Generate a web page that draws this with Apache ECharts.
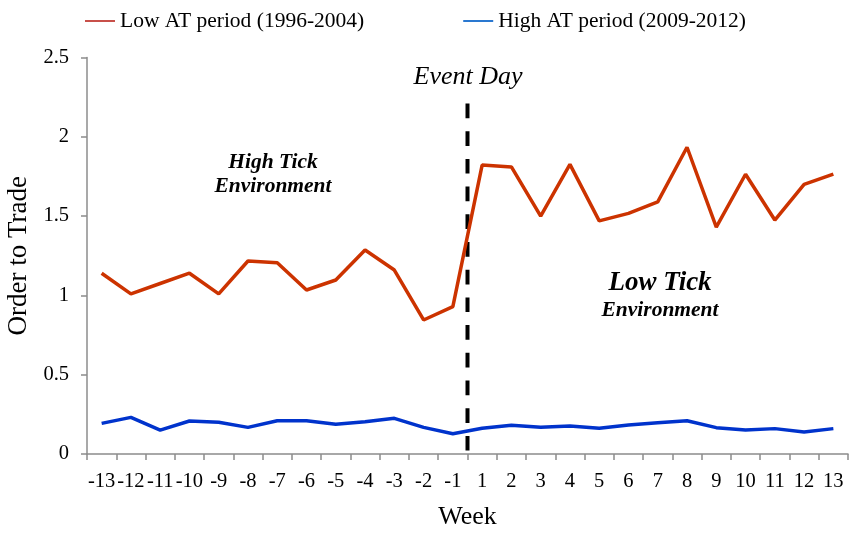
<!DOCTYPE html>
<html>
<head>
<meta charset="utf-8">
<script src="https://cdn.jsdelivr.net/npm/echarts@6/dist/echarts.min.js"></script>
<style>
  html, body { margin: 0; padding: 0; background: #fff; }
  #chart { width: 850px; height: 534px; }
</style>
</head>
<body>
<div id="chart"></div>
<script>
// Weeks around the event day (no week 0)
const weeks = ['-13','-12','-11','-10','-9','-8','-7','-6','-5','-4','-3','-2','-1',
               '1','2','3','4','5','6','7','8','9','10','11','12','13'];

// Order-to-trade ratio, low AT period (1996-2004)
const lowAT = [1.14, 1.01, 1.075, 1.14, 1.01, 1.217, 1.206, 1.034, 1.097, 1.286, 1.16, 0.845, 0.929,
               1.822, 1.81, 1.50, 1.826, 1.47, 1.517, 1.59, 1.934, 1.43, 1.764, 1.475, 1.70, 1.765];

// Order-to-trade ratio, high AT period (2009-2012)
const highAT = [0.193, 0.231, 0.151, 0.208, 0.2, 0.168, 0.21, 0.21, 0.187, 0.204, 0.225, 0.168, 0.128,
                0.162, 0.181, 0.168, 0.176, 0.162, 0.183, 0.197, 0.21, 0.166, 0.151, 0.16, 0.139, 0.16];

// Event day marker: boundary between week -1 and week 1 (13 weeks in), drawn top-down
const eventBoundary = 13;
const eventLine = [[eventBoundary, 2.21], [eventBoundary, 0]];

const serif = '"Liberation Serif", "Times New Roman", serif';

const chart = echarts.init(document.getElementById('chart'));
chart.setOption({
  backgroundColor: '#fff',
  animation: false,
  textStyle: { fontFamily: serif },
  legend: {
    top: 5,
    left: 80,
    itemWidth: 30,
    itemHeight: 2,
    itemGap: 99,
    icon: 'rect',
    data: [
      { name: 'Low AT period (1996-2004)', itemStyle: { color: '#c8504a' } },
      { name: 'High AT period (2009-2012)', itemStyle: { color: '#2a78d0' } }
    ],
    textStyle: { fontFamily: serif, fontSize: 21.5, color: '#000' }
  },
  grid: { left: 87, right: 2, top: 57.5, bottom: 80, containLabel: false, outerBoundsMode: 'none' },
  xAxis: [{
    type: 'category',
    data: weeks,
    boundaryGap: true,
    name: 'Week',
    nameLocation: 'middle',
    nameGap: 50,
    nameTextStyle: { fontFamily: serif, fontSize: 26, color: '#000' },
    axisLine: { lineStyle: { color: '#8c8c8c', width: 1.5 } },
    axisTick: { show: true, length: 6, lineStyle: { color: '#8c8c8c', width: 1.5 } },
    axisLabel: { interval: 0, margin: 17, fontFamily: serif, fontSize: 20.5, color: '#000' },
    splitLine: { show: false }
  }, {
    type: 'value',
    min: 0,
    max: 26,
    show: false
  }],
  yAxis: {
    type: 'value',
    min: 0,
    max: 2.5,
    interval: 0.5,
    name: 'Order to Trade',
    nameLocation: 'middle',
    nameGap: 48,
    nameTextStyle: { fontFamily: serif, fontSize: 27, color: '#000' },
    axisLine: { show: true, lineStyle: { color: '#8c8c8c', width: 1.5 } },
    axisTick: { show: true, length: 6, lineStyle: { color: '#8c8c8c', width: 1.5 } },
    axisLabel: { margin: 18, fontFamily: serif, fontSize: 20.5, color: '#000' },
    splitLine: { show: false }
  },
  series: [{
    name: 'Low AT period (1996-2004)',
    type: 'line',
    data: lowAT,
    symbol: 'none',
    color: '#cc3300',
    lineStyle: { color: '#cc3300', width: 3.5 }
  }, {
    name: 'High AT period (2009-2012)',
    type: 'line',
    data: highAT,
    symbol: 'none',
    color: '#0033cc',
    lineStyle: { color: '#0033cc', width: 3.5 }
  }, {
    name: 'Event Day',
    type: 'line',
    xAxisIndex: 1,
    data: eventLine,
    symbol: 'none',
    silent: true,
    lineStyle: { color: '#000', width: 4, type: [14.7, 13] },
    z: 1
  }],
  graphic: [{
    type: 'text',
    x: 468, y: 77,
    style: {
      text: 'Event Day', align: 'center', verticalAlign: 'middle',
      fontFamily: serif, fontSize: 26, fontStyle: 'italic', fill: '#000'
    }
  }, {
    type: 'text',
    x: 273, y: 162,
    style: {
      text: 'High Tick', align: 'center', verticalAlign: 'middle',
      fontFamily: serif, fontSize: 21.5, fontStyle: 'italic', fontWeight: 'bold', fill: '#000'
    }
  }, {
    type: 'text',
    x: 273, y: 186,
    style: {
      text: 'Environment', align: 'center', verticalAlign: 'middle',
      fontFamily: serif, fontSize: 21.5, fontStyle: 'italic', fontWeight: 'bold', fill: '#000'
    }
  }, {
    type: 'text',
    x: 660, y: 283,
    style: {
      text: 'Low Tick', align: 'center', verticalAlign: 'middle',
      fontFamily: serif, fontSize: 27, fontStyle: 'italic', fontWeight: 'bold', fill: '#000'
    }
  }, {
    type: 'text',
    x: 660, y: 310,
    style: {
      text: 'Environment', align: 'center', verticalAlign: 'middle',
      fontFamily: serif, fontSize: 21.5, fontStyle: 'italic', fontWeight: 'bold', fill: '#000'
    }
  }]
});
</script>
</body>
</html>
